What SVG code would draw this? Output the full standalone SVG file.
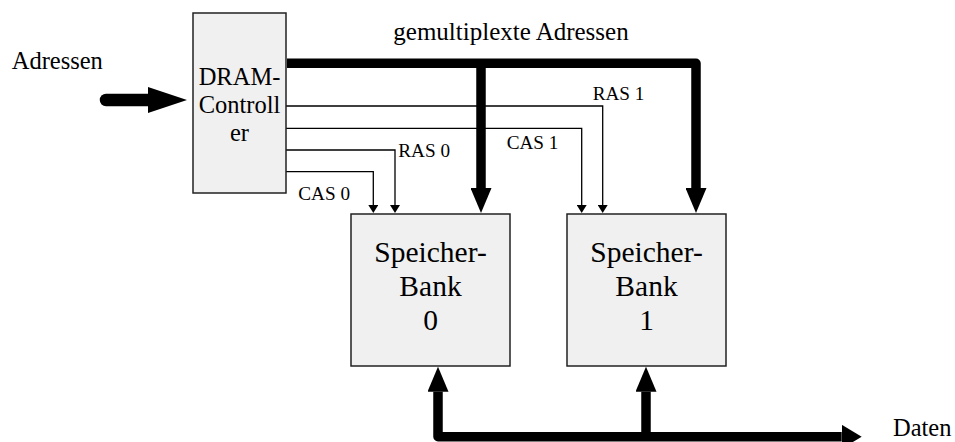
<svg xmlns="http://www.w3.org/2000/svg" width="955" height="442" viewBox="0 0 955 442">
  <style>
    .box { fill: #f0f0f0; stroke: #222; stroke-width: 1.5; }
    .t { font-family: "Liberation Serif", "Times New Roman", serif; fill: #000; }
    .lab { font-size: 24.5px; }
    .small { font-size: 19.2px; }
    .big { font-size: 29.5px; text-anchor: middle; }
    .thin { fill: none; stroke: #000; stroke-width: 1.3; }
    .bus { fill: none; stroke: #000; stroke-width: 9.5; stroke-linejoin: round; }
  </style>
  <defs>
    <marker id="ah-thin" viewBox="0 0 8 10" refX="0" refY="5" markerWidth="8" markerHeight="10" markerUnits="userSpaceOnUse" orient="auto">
      <path d="M0,0 L8,5 L0,10 z" fill="#000"/>
    </marker>
    <marker id="ah-bus" viewBox="0 0 25 21" refX="0" refY="10.5" markerWidth="25" markerHeight="21" markerUnits="userSpaceOnUse" orient="auto-start-reverse">
      <path d="M0,0 L25,10.5 L0,21 z" fill="#000"/>
    </marker>
    <marker id="ah-out" viewBox="0 0 20 24" refX="0" refY="12" markerWidth="20" markerHeight="24" markerUnits="userSpaceOnUse" orient="auto">
      <path d="M0,0 L20,12 L0,24 z" fill="#000"/>
    </marker>
  </defs>

  <g id="connectors">
    <g id="in-arrow">
      <path d="M106,100 H149" fill="none" stroke="#000" stroke-width="12.5" stroke-linecap="round"/>
      <polygon points="148,87 187,100 148,113" fill="#000"/>
    </g>
    <path class="bus" d="M287,63.3 H696 V188" marker-end="url(#ah-bus)"/>
    <path class="bus" d="M481,63.3 V188" marker-end="url(#ah-bus)"/>
    <path class="thin" d="M286,106 H602.7 V205" marker-end="url(#ah-thin)"/>
    <path class="thin" d="M286,128.3 H581.7 V205" marker-end="url(#ah-thin)"/>
    <path class="thin" d="M286,150 H395 V205" marker-end="url(#ah-thin)"/>
    <path class="thin" d="M286,171.7 H373.3 V205" marker-end="url(#ah-thin)"/>
    <path class="bus" d="M438,391.7 V436.7 H841.7" marker-start="url(#ah-bus)" marker-end="url(#ah-out)"/>
    <path class="bus" d="M646,436.7 V391.7" marker-end="url(#ah-bus)"/>
  </g>

  <g id="controller">
    <rect class="box" x="193" y="13" width="93" height="180"/>
    <text class="t lab" x="239.5" y="85" text-anchor="middle">DRAM-</text>
    <text class="t lab" x="239.5" y="113" text-anchor="middle">Controll</text>
    <text class="t lab" x="239.5" y="141" text-anchor="middle">er</text>
  </g>

  <g id="bank0">
    <rect class="box" x="351" y="214" width="159" height="152"/>
    <text class="t big" x="430.5" y="261.5">Speicher-</text>
    <text class="t big" x="430.5" y="295.5">Bank</text>
    <text class="t big" x="430.5" y="329.5">0</text>
  </g>

  <g id="bank1">
    <rect class="box" x="567" y="214" width="159" height="152"/>
    <text class="t big" x="646.5" y="261.5">Speicher-</text>
    <text class="t big" x="646.5" y="295.5">Bank</text>
    <text class="t big" x="646.5" y="329.5">1</text>
  </g>

  <g id="labels">
    <text class="t lab" x="11.7" y="69">Adressen</text>
    <text class="t lab" x="511" y="40" text-anchor="middle" style="font-size:25px">gemultiplexte Adressen</text>
    <text class="t small" x="592.7" y="100">RAS 1</text>
    <text class="t small" x="506.7" y="149">CAS 1</text>
    <text class="t small" x="398.3" y="156.7">RAS 0</text>
    <text class="t small" x="298.3" y="200">CAS 0</text>
    <text class="t lab" x="893" y="436">Daten</text>
  </g>
</svg>
